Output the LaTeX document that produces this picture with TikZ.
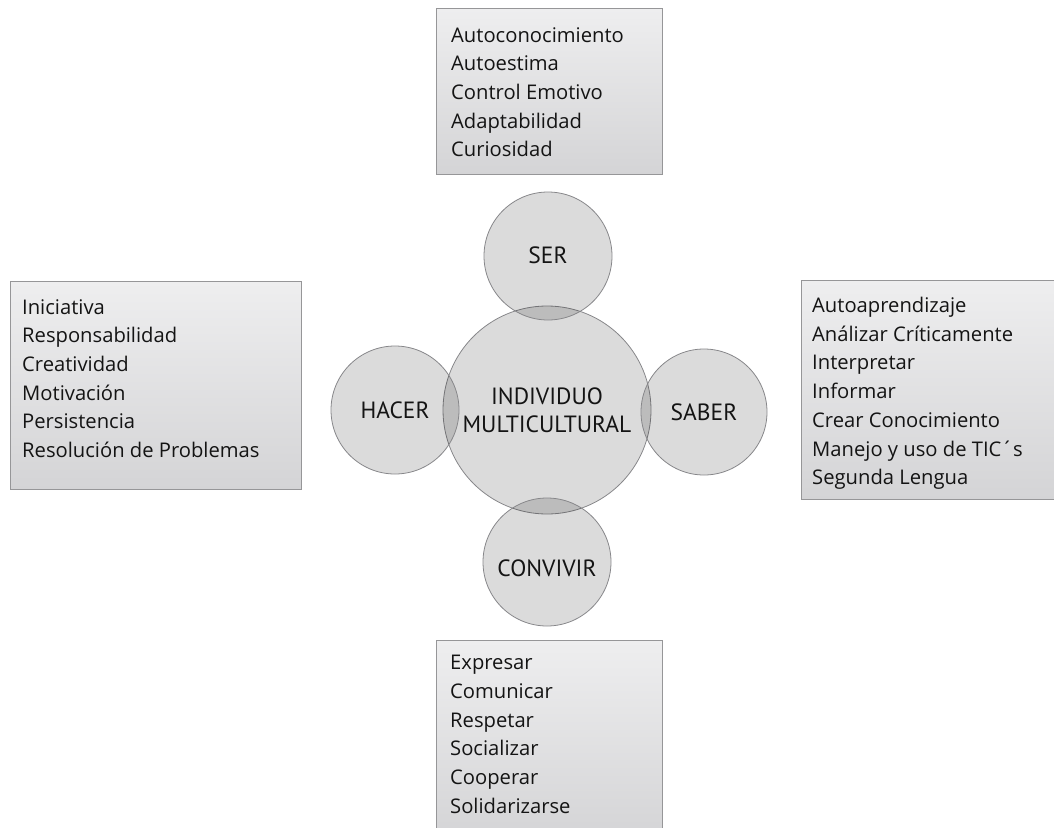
\documentclass[tikz,border=0pt]{standalone}
\usepackage{fontspec}
\setmainfont{Open Sans}
\newfontfamily\circlefont{PT Sans}
\definecolor{ink}{RGB}{20,20,20}
\definecolor{boxline}{RGB}{150,150,152}
\definecolor{boxtop}{RGB}{238,238,239}
\definecolor{boxbottom}{RGB}{212,212,214}
\definecolor{ringline}{RGB}{135,135,138}
\begin{document}
\begin{tikzpicture}[x=1pt,y=-1pt,
  listbox/.style={draw=boxline, line width=1.4pt, top color=boxtop, bottom color=boxbottom,
                  rectangle, inner sep=0pt, anchor=north west},
  listtext/.style={inner sep=0pt, anchor=north west, align=left, text=ink,
                   font=\fontsize{20.2}{28.7}\selectfont},
  ring/.style={circle, draw=ringline, line width=0.8pt, fill=black, fill opacity=0.14,
               text opacity=1, text=ink, inner sep=0pt, align=center,
               font=\circlefont\fontsize{23.5}{28}\selectfont},
  ringtext/.style={inner sep=0pt, text=ink, font=\circlefont\fontsize{23.5}{28}\selectfont},
]
\clip (0,0) rectangle (1054,827);

% list boxes
\node[listbox, minimum width=226pt, minimum height=166pt] (serbox) at (436,8) {};
\node[listbox, minimum width=291pt, minimum height=208pt] (hacerbox) at (10,281) {};
\node[listbox, minimum width=262pt, minimum height=219pt] (saberbox) at (801,280) {};
\node[listbox, minimum width=226pt, minimum height=200pt] (convivirbox) at (436,640) {};

\node[listtext] (sertext) at ([xshift=15pt,yshift=-19pt]serbox.north west)
  {Autoconocimiento\\Autoestima\\Control Emotivo\\Adaptabilidad\\Curiosidad};
\node[listtext] (hacertext) at ([xshift=12pt,yshift=-18pt]hacerbox.north west)
  {Iniciativa\\Responsabilidad\\Creatividad\\Motivación\\Persistencia\\Resolución de Problemas};
\node[listtext] (sabertext) at ([xshift=11pt,yshift=-17pt]saberbox.north west)
  {Autoaprendizaje\\Análizar Críticamente\\Interpretar\\Informar\\Crear Conocimiento\\Manejo y uso de TIC´s\\Segunda Lengua};
\node[listtext] (convivirtext) at ([xshift=14pt,yshift=-15pt]convivirbox.north west)
  {Expresar\\Comunicar\\Respetar\\Socializar\\Cooperar\\Solidarizarse};

% overlapping circles
\node[ring, minimum size=208pt] (centre) at (547,410) {INDIVIDUO\\MULTICULTURAL};
\node[ring, minimum size=128pt] (ser) at (548,256) {};
\node[ring, minimum size=128pt] (hacer) at (395,410) {};
\node[ring, minimum size=126pt] (saber) at (704,412) {};
\node[ring, minimum size=128pt] (convivir) at (547,562) {};

% circle captions
\node[ringtext] (serlabel) at ([yshift=1pt]ser.center) {SER};
\node[ringtext] (hacerlabel) at (hacer.center) {HACER};
\node[ringtext] (saberlabel) at (saber.center) {SABER};
\node[ringtext] (convivirlabel) at ([yshift=-6pt]convivir.center) {CONVIVIR};
\end{tikzpicture}
\end{document}
